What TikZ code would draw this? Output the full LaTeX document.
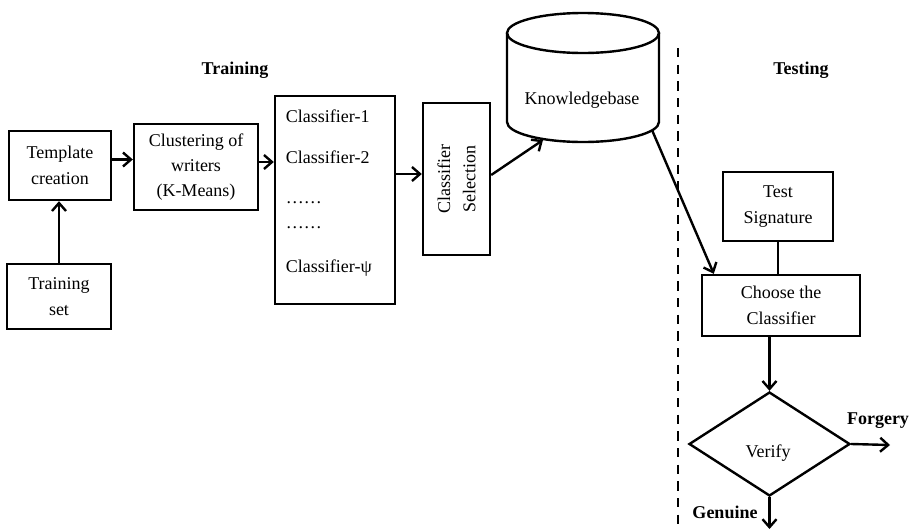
\documentclass[tikz,border=0pt]{standalone}
\usepackage{fontspec}
\setmainfont{Liberation Serif}
\usetikzlibrary{arrows.meta,shapes.geometric}

\tikzset{every picture/.style={line width=0.75pt}}

\begin{document}
\begin{tikzpicture}[x=0.75pt,y=0.75pt,yscale=-1,xscale=1,
	font=\fontsize{13.5}{19}\selectfont,
	blk/.style={draw,line width=1.8pt,align=center,inner sep=0pt},
	arr/.style={line width=1.8pt,-{Straight Barb[length=6pt,width=10.5pt,line width=1.8pt]}},
	hdr/.style={font=\fontsize{13.5}{19}\selectfont\bfseries}]
	\useasboundingbox (0,0) rectangle (922,529);

	% Text Node
	\draw (235,70) node [hdr] (trn) {Training};
	% Text Node
	\draw (801,70) node [hdr] (tst) {Testing};

	%Shape: Rectangle
	\draw (60,165.5) node [blk,minimum width=76.5pt,minimum height=51.75pt] (tmpl) {Template\\creation};
	%Shape: Rectangle
	\draw (59,296.5) node [blk,minimum width=78pt,minimum height=48.75pt] (trset) {Training\\set};
	%Shape: Rectangle
	\draw (196,167) node [blk,minimum width=93pt,minimum height=64.5pt] (clust) {Clustering of\\writers\\(K-Means)};
	%Shape: Rectangle
	\draw (335,200) node [blk,minimum width=90pt,minimum height=156pt] (clf) {};
	% Text Node
	\draw (281,116) node [anchor=west] (c1) {Classifier-1};
	% Text Node
	\draw (281,157) node [anchor=west] (c2) {Classifier-2};
	% Text Node
	\draw (281,203) node [anchor=west] (d1) {……};
	% Text Node
	\draw (281,228) node [anchor=west] (d2) {……};
	% Text Node
	\draw (281,268) node [anchor=west] (cpsi) {Classifier-ψ};
	%Shape: Rectangle
	\draw (456.5,179) node [blk,minimum width=50.25pt,minimum height=114pt] (sel) {};
	% Text Node
	\draw (456.5,179) node [rotate=90,align=center] (seltxt) {Classifier\\Selection};

	%Shape: Can
	\draw [line width=1.8pt] (583,33) ellipse [x radius=76, y radius=20];
	\draw [line width=1.8pt] (507,33) -- (507,122) arc [start angle=180, end angle=0, x radius=76, y radius=20] -- (659,33);
	\coordinate (kbin) at (543,140);
	\coordinate (kbout) at (652,130);
	% Text Node
	\draw (582,100) node (kb) {Knowledgebase};

	%Straight Lines
	\draw [line width=1.6pt,dash pattern=on 7pt off 5.5pt] (678,48) -- (678,529);

	%Shape: Rectangle
	\draw (778,206.5) node [blk,minimum width=82.5pt,minimum height=51.75pt] (tsig) {Test\\Signature};
	%Shape: Rectangle
	\draw (781,305.5) node [blk,minimum width=118.5pt,minimum height=45.75pt] (choose) {Choose the\\Classifier};
	%Shape: Diamond
	\draw (769.5,444) node [draw,diamond,line width=1.8pt,inner sep=0pt,minimum width=120.75pt,minimum height=78pt] (verify) {};
	% Text Node
	\draw (768,453) node (vtxt) {Verify};
	\coordinate (fout) at (890,445);
	\coordinate (gout) at (769.5,529);
	% Text Node
	\draw (878,421) node [hdr] (forg) {Forgery};
	% Text Node
	\draw (725,512) node [hdr] (gen) {Genuine};

	% Connection
	\draw [arr] (trset.north) -- (trset.north |- tmpl.south);
	% Connection
	\draw [arr] ([yshift=-4.5pt]tmpl.east) -- ([yshift=-4.5pt]tmpl.east -| clust.west);
	% Connection
	\draw [arr] ([yshift=-3.75pt]clust.east) -- ([yshift=-3.75pt]clust.east -| clf.west);
	% Connection
	\draw [arr] ([yshift=-3.75pt]sel.west -| clf.east) -- ([yshift=-3.75pt]sel.west);
	% Connection
	\draw [arr] ([yshift=-3pt]sel.east) -- (kbin);
	% Connection
	\draw [arr] (kbout) -- ([xshift=9.75pt]choose.north west);
	% Connection
	\draw [line width=1.8pt] (tsig.south) -- (tsig.south |- choose.north);
	% Connection
	\draw [arr] (choose.south -| verify.north) -- (verify.north);
	% Connection
	\draw [arr] (verify.east) -- (fout);
	% Connection
	\draw [arr] (verify.south) -- (gout);

\end{tikzpicture}
\end{document}
